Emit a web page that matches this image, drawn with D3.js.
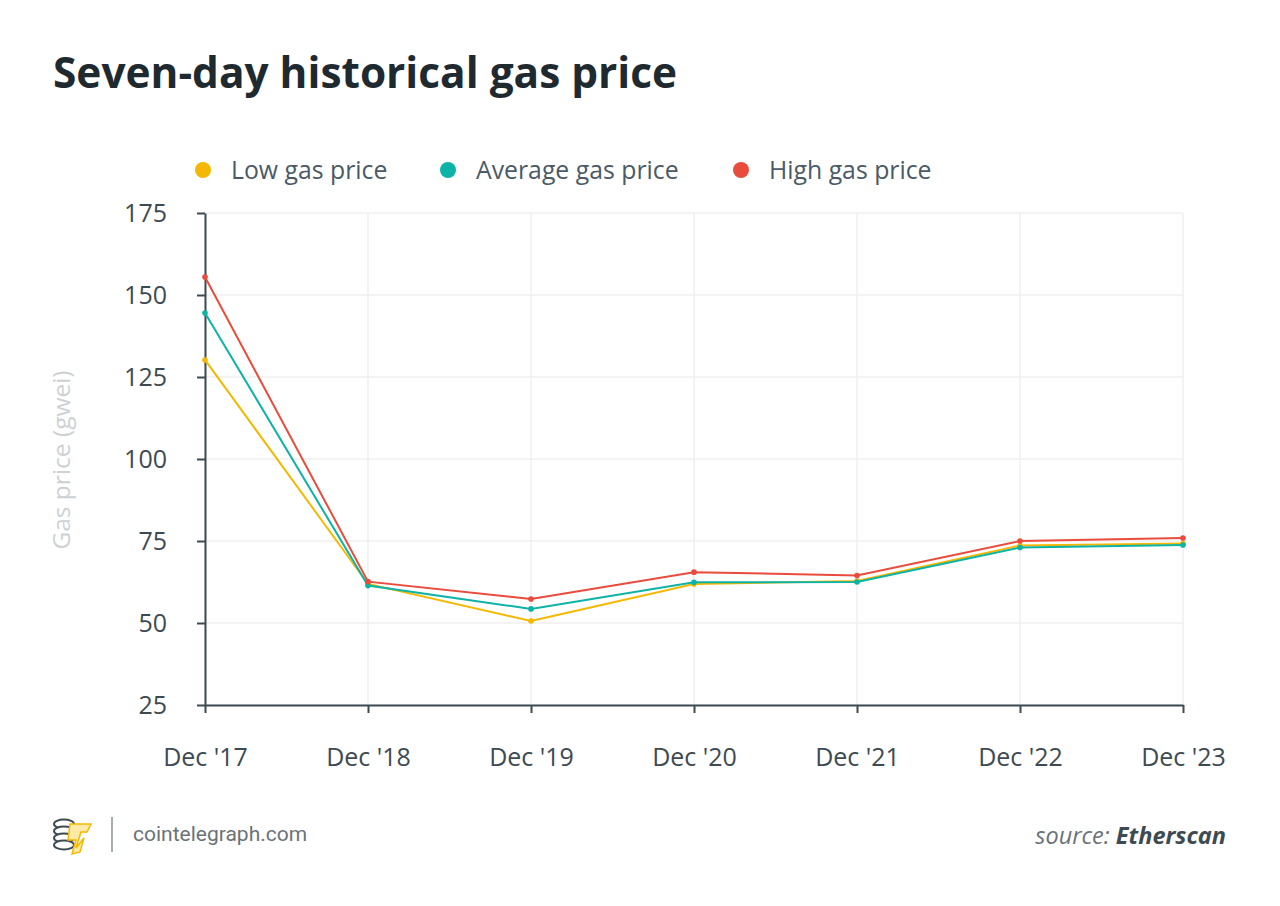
<!DOCTYPE html>
<html>
<head>
<meta charset="utf-8">
<script src="https://cdn.jsdelivr.net/npm/d3@7"></script>
<style>
  body { margin: 0; background: #fff; }
  svg { display: block; }
</style>
</head>
<body>
<svg id="chart" width="1280" height="906"></svg>
<script>
const categories = ["Dec '17", "Dec '18", "Dec '19", "Dec '20", "Dec '21", "Dec '22", "Dec '23"];
const lowGas = [130.2, 61.9, 50.6, 61.9, 62.8, 73.6, 74.2];
const avgGas = [144.5, 61.4, 54.3, 62.4, 62.5, 73.0, 73.8];
const highGas = [155.5, 62.6, 57.3, 65.5, 64.5, 75.0, 75.9];
const yTicks = [25, 50, 75, 100, 125, 150, 175];
const seriesNames = ["Low gas price", "Average gas price", "High gas price"];
const seriesColors = ["#f5b800", "#0cb3a6", "#e94b3c"];

const series = [
  { name: seriesNames[0], values: lowGas, color: seriesColors[0] },
  { name: seriesNames[1], values: avgGas, color: seriesColors[1] },
  { name: seriesNames[2], values: highGas, color: seriesColors[2] }
];

const svg = d3.select("#chart");
const plotL = 205, plotR = 1183, plotT = 213, plotB = 705;

const x = d3.scalePoint().domain(categories).range([plotL, plotR]);
const y = d3.scaleLinear().domain([25, 175]).range([plotB, plotT]);

// Title
svg.append("text").attr("x", 53).attr("y", 88)
  .attr("font-family", "Open Sans").attr("font-weight", 700).attr("font-size", 42.4)
  .attr("fill", "#1f2a30").text("Seven-day historical gas price");

// Legend
const legendX = [203, 448, 741];
series.forEach((s, i) => {
  svg.append("circle").attr("cx", legendX[i]).attr("cy", 170).attr("r", 8).attr("fill", s.color);
  svg.append("text").attr("x", legendX[i] + 28).attr("y", 179)
    .attr("font-family", "Open Sans").attr("font-size", 24.8).attr("fill", "#4a5a66").text(s.name);
});

// Grid
const grid = svg.append("g");
yTicks.forEach(t => {
  grid.append("line").attr("x1", plotL).attr("x2", plotR).attr("y1", y(t)).attr("y2", y(t))
    .attr("stroke", "#efefef").attr("stroke-width", 1.5);
});
categories.forEach(c => {
  grid.append("line").attr("x1", x(c)).attr("x2", x(c)).attr("y1", plotT).attr("y2", plotB)
    .attr("stroke", "#efefef").attr("stroke-width", 1.5);
});

// Y axis
const yAxis = svg.append("g").attr("transform", `translate(${plotL},0)`)
  .call(d3.axisLeft(y).tickValues(yTicks).tickSize(8).tickPadding(30).tickSizeOuter(0));
yAxis.select(".domain").attr("stroke", "#3d4a52").attr("stroke-width", 2);
yAxis.selectAll(".tick line").attr("stroke", "#3d4a52").attr("stroke-width", 2);
yAxis.selectAll(".tick text").attr("font-family", "Open Sans").attr("font-size", 25).attr("fill", "#3d4a52");

// X axis
const xAxis = svg.append("g").attr("transform", `translate(0,${plotB})`)
  .call(d3.axisBottom(x).tickSize(8).tickPadding(35).tickSizeOuter(0));
xAxis.select(".domain").attr("stroke", "#3d4a52").attr("stroke-width", 2);
xAxis.selectAll(".tick line").attr("stroke", "#3d4a52").attr("stroke-width", 2);
xAxis.selectAll(".tick text").attr("font-family", "Open Sans").attr("font-size", 25).attr("fill", "#3d4a52");

// Y axis title
svg.append("text").attr("transform", `translate(70,460) rotate(-90)`)
  .attr("text-anchor", "middle").attr("font-family", "Open Sans").attr("font-size", 24.5)
  .attr("fill", "#cdd1d4").text("Gas price (gwei)");

// Lines
const line = d3.line().x((d, i) => x(categories[i])).y(d => y(d));
series.forEach(s => {
  svg.append("path").datum(s.values).attr("d", line).attr("fill", "none")
    .attr("stroke", s.color).attr("stroke-width", 2);
  svg.selectAll(null).data(s.values).enter().append("circle")
    .attr("cx", (d, i) => x(categories[i])).attr("cy", d => y(d)).attr("r", 2.8).attr("fill", s.color);
});

// Footer logo
const logo = svg.append("g").attr("transform", "translate(53,818)");
[0, 7, 14, 21].forEach(dy => {
  logo.append("ellipse").attr("cx", 11).attr("cy", 6 + dy).attr("rx", 10).attr("ry", 4.5)
    .attr("fill", "#fff").attr("stroke", "#3d4a52").attr("stroke-width", 2);
});
logo.append("path").attr("d", "M17 6 L38 6 L34 14 L28 14 L23 30 L31 20 L27 34 L19 36 L23 22 L15 22 Z")
  .attr("fill", "#ffe9a6").attr("stroke", "#f5b800").attr("stroke-width", 1.5);
svg.append("line").attr("x1", 112).attr("x2", 112).attr("y1", 817).attr("y2", 852)
  .attr("stroke", "#8a9096").attr("stroke-width", 1.5);
svg.append("text").attr("x", 133).attr("y", 841)
  .attr("font-family", "Roboto").attr("font-size", 21).attr("fill", "#6b7278").text("cointelegraph.com");

// Source
const src = svg.append("text").attr("x", 1226).attr("y", 844).attr("text-anchor", "end")
  .attr("font-family", "Open Sans").attr("font-style", "italic").attr("font-size", 23.5).attr("fill", "#6b7278");
src.append("tspan").text("source: ");
src.append("tspan").attr("font-weight", 700).attr("fill", "#3d4a52").text("Etherscan");
</script>
</body>
</html>
